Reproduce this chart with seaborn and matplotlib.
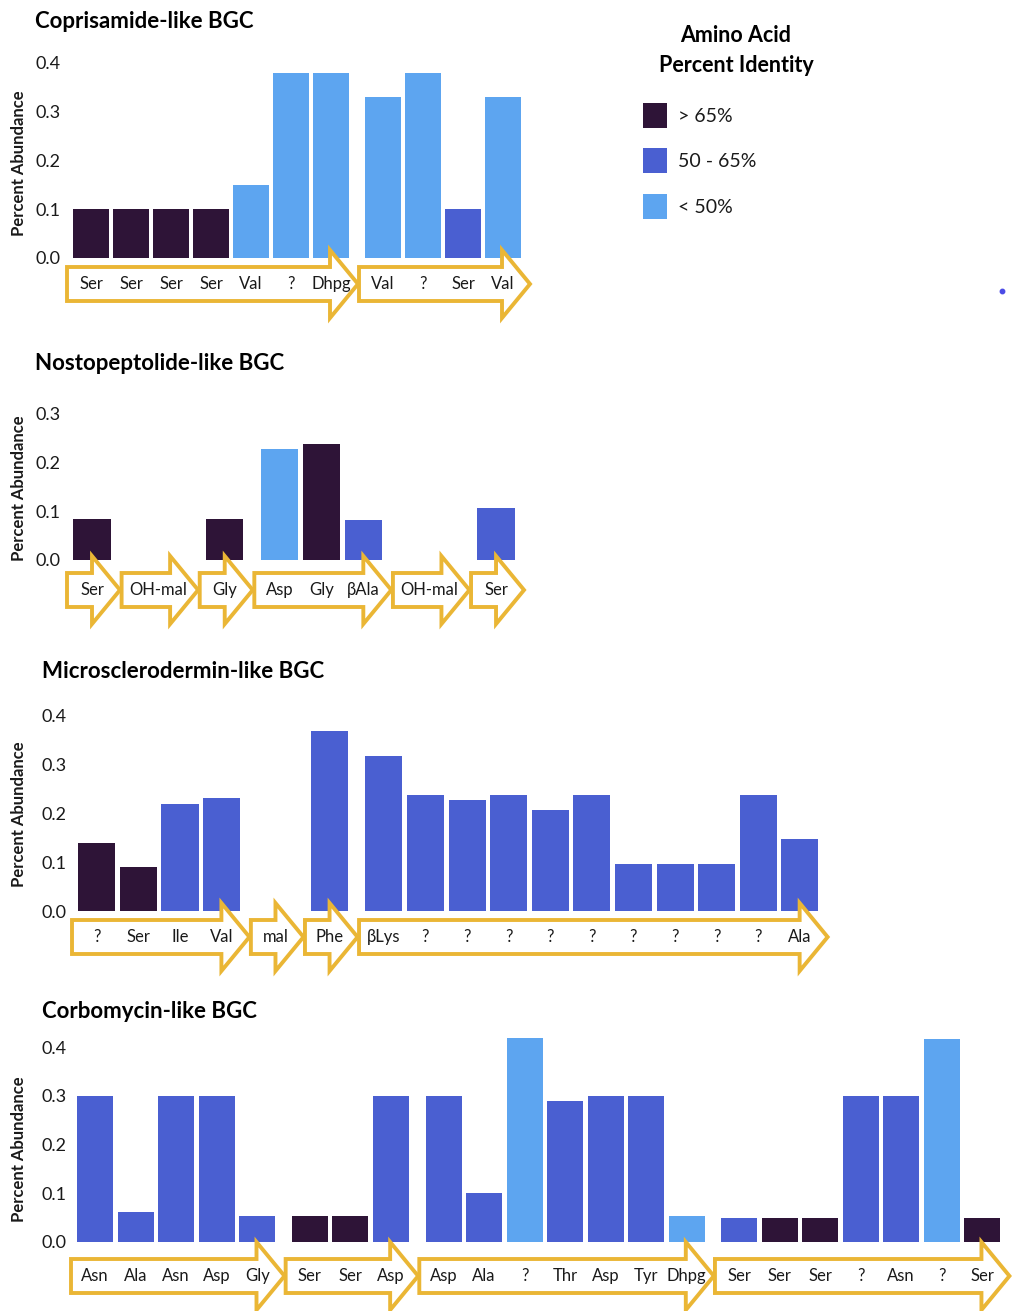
import matplotlib
matplotlib.use("Agg")
import matplotlib.pyplot as plt
from matplotlib.patches import Polygon, Patch
from matplotlib.lines import Line2D
import numpy as np
import pandas as pd
import seaborn as sns

# ---------------------------------------------------------------- data
ID_CLASSES = ["> 65%", "50 - 65%", "< 50%"]
ID_COLORS = ["#2E1437", "#4A5FD1", "#5DA5F0"]

# Coprisamide-like BGC
copri_title = "Coprisamide-like BGC"
copri_modules = [["Ser", "Ser", "Ser", "Ser", "Val", "?", "Dhpg"],
                 ["Val", "?", "Ser", "Val"]]
copri_values = [0.10, 0.10, 0.10, 0.10, 0.15, 0.38, 0.38,
                0.33, 0.38, 0.10, 0.33]
copri_identity = ["> 65%", "> 65%", "> 65%", "> 65%", "< 50%", "< 50%", "< 50%",
                  "< 50%", "< 50%", "50 - 65%", "< 50%"]

# Nostopeptolide-like BGC (None = domain without an amino acid)
nosto_title = "Nostopeptolide-like BGC"
nosto_modules = [["Ser"], ["OH-mal"], ["Gly"], ["Asp", "Gly", "βAla"],
                 ["OH-mal"], ["Ser"]]
nosto_values = [0.085, None, 0.085, 0.227, 0.237, 0.083, None, 0.107]
nosto_identity = ["> 65%", None, "> 65%", "< 50%", "> 65%", "50 - 65%",
                  None, "50 - 65%"]

# Microsclerodermin-like BGC
micro_title = "Microsclerodermin-like BGC"
micro_modules = [["?", "Ser", "Ile", "Val"], ["mal"], ["Phe"],
                 ["βLys", "?", "?", "?", "?", "?", "?", "?", "?", "?", "Ala"]]
micro_values = [0.14, 0.09, 0.22, 0.232, None, 0.369,
                0.318, 0.238, 0.228, 0.238, 0.207, 0.238, 0.097, 0.097,
                0.097, 0.238, 0.147]
micro_identity = ["> 65%", "> 65%", "50 - 65%", "50 - 65%", None, "50 - 65%",
                  "50 - 65%", "50 - 65%", "50 - 65%", "50 - 65%", "50 - 65%",
                  "50 - 65%", "50 - 65%", "50 - 65%", "50 - 65%", "50 - 65%",
                  "50 - 65%"]

# Corbomycin-like BGC
corbo_title = "Corbomycin-like BGC"
corbo_modules = [["Asn", "Ala", "Asn", "Asp", "Gly"],
                 ["Ser", "Ser", "Asp"],
                 ["Asp", "Ala", "?", "Thr", "Asp", "Tyr", "Dhpg"],
                 ["Ser", "Ser", "Ser", "?", "Asn", "?", "Ser"]]
corbo_values = [0.30, 0.062, 0.30, 0.30, 0.053,
                0.053, 0.053, 0.30,
                0.30, 0.10, 0.418, 0.29, 0.30, 0.30, 0.053,
                0.05, 0.05, 0.05, 0.30, 0.30, 0.417, 0.05]
corbo_identity = ["50 - 65%", "50 - 65%", "50 - 65%", "50 - 65%", "50 - 65%",
                  "> 65%", "> 65%", "50 - 65%",
                  "50 - 65%", "50 - 65%", "< 50%", "50 - 65%", "50 - 65%",
                  "50 - 65%", "< 50%",
                  "50 - 65%", "> 65%", "> 65%", "50 - 65%", "50 - 65%",
                  "< 50%", "> 65%"]

# ---------------------------------------------------------------- style
sns.set_style("white")
plt.rcParams["font.family"] = ["Lato", "DejaVu Sans"]
TEXT = "#1A1A1A"
ARROW = "#EAB635"

W, H, DPI = 1015, 1311, 100
PX_PER_UNIT = 487.5          # vertical pixels per 1.0 of abundance
fig = plt.figure(figsize=(W / DPI, H / DPI), dpi=DPI)
fig.patch.set_facecolor("white")


def module_layout(modules, values, gap=0.3):
    """Slot spans of each module and the x centre of every label."""
    spans, centers = [], []
    pos, k = 0.0, 0
    for mod in modules:
        if len(mod) == 1 and values[k] is None:
            w = max(1.0, 0.26 * len(mod[0]))
            centers.append(pos + w / 2)
        else:
            w = float(len(mod))
            centers.extend(pos + 0.5 + i for i in range(len(mod)))
        spans.append((pos, pos + w))
        k += len(mod)
        pos += w + gap
    return spans, centers


def draw_panel(title, modules, values, identity, origin, slot, zero,
               axis_px, ytop, title_xy, ylabel_y, arrow_dy):
    spans, centers = module_layout(modules, values)
    labels = [lab for mod in modules for lab in mod]

    ymin, ymax = -0.14, 0.45
    xmin = (axis_px - origin) / slot
    xmax = spans[-1][1] + 0.8
    top_px = zero - ymax * PX_PER_UNIT
    bot_px = zero - ymin * PX_PER_UNIT
    ax = fig.add_axes([axis_px / W, 1 - bot_px / H,
                       (xmax - xmin) * slot / W, (bot_px - top_px) / H])
    ax.set_facecolor("none")

    df = pd.DataFrame({"pos": centers, "value": values,
                       "identity": identity, "label": labels})
    df = df.dropna(subset=["value"])
    sns.barplot(data=df, x="pos", y="value", hue="identity",
                hue_order=ID_CLASSES,
                palette=dict(zip(ID_CLASSES, ID_COLORS)),
                native_scale=True, dodge=False, width=0.89,
                errorbar=None, saturation=1, linewidth=0,
                legend=False, ax=ax, zorder=2)

    ax.set_xlim(xmin, xmax)
    ax.set_ylim(ymin, ymax)
    ticks = [t / 10 for t in range(0, int(round(ytop * 10)) + 1)]
    ax.set_yticks(ticks)
    ax.set_yticklabels([f"{t:.1f}" for t in ticks])
    ax.tick_params(axis="y", length=0, pad=3, labelsize=13,
                   labelcolor=TEXT)
    ax.set_xticks([])
    ax.set_xlabel("")
    sns.despine(ax=ax, left=True, bottom=True)

    ax.set_ylabel("Percent Abundance", fontsize=12, fontweight="bold",
                  color=TEXT, ha="center", va="center")
    ax.yaxis.set_label_coords(19 / W, 1 - ylabel_y / H,
                              transform=fig.transFigure)

    fig.text(title_xy[0] / W, 1 - title_xy[1] / H, title, ha="left",
             va="center", fontsize=16, fontweight="bold", color="black")

    # module arrows with their residue labels
    yc = -arrow_dy / PX_PER_UNIT
    bh, hh = 17 / PX_PER_UNIT, 34 / PX_PER_UNIT
    hl = 28 / slot
    for s, e in spans:
        xt, xp = s - 4 / slot, e + 7 / slot
        pts = [(xt, yc + bh), (xp - hl, yc + bh), (xp - hl, yc + hh),
               (xp, yc), (xp - hl, yc - hh), (xp - hl, yc - bh),
               (xt, yc - bh)]
        ax.add_patch(Polygon(pts, closed=True, facecolor="white",
                             edgecolor=ARROW, linewidth=2.8,
                             joinstyle="miter", zorder=3, clip_on=False))
    for x, lab in zip(centers, labels):
        ax.text(x, yc, lab, ha="center", va="center", fontsize=12,
                color=TEXT, zorder=4, clip_on=False)
    return ax


draw_panel(copri_title, copri_modules, copri_values, copri_identity,
           origin=71, slot=40, zero=258, axis_px=65, ytop=0.4,
           title_xy=(35, 22), ylabel_y=163, arrow_dy=26)
draw_panel(nosto_title, nosto_modules, nosto_values, nosto_identity,
           origin=71, slot=42, zero=560, axis_px=65, ytop=0.3,
           title_xy=(35, 363), ylabel_y=488, arrow_dy=30)
draw_panel(micro_title, micro_modules, micro_values, micro_identity,
           origin=76, slot=41.6, zero=911, axis_px=71, ytop=0.4,
           title_xy=(42, 672), ylabel_y=814, arrow_dy=26)
draw_panel(corbo_title, corbo_modules, corbo_values, corbo_identity,
           origin=75, slot=40.5, zero=1242, axis_px=71, ytop=0.4,
           title_xy=(42, 1012), ylabel_y=1149, arrow_dy=34)

# ---------------------------------------------------------------- legend
fig.text(736 / W, 1 - 36 / H, "Amino Acid", ha="center", va="center",
         fontsize=15.5, fontweight="bold", color="black")
fig.text(736 / W, 1 - 66 / H, "Percent Identity", ha="center", va="center",
         fontsize=15.5, fontweight="bold", color="black")
handles = [Patch(facecolor=c, edgecolor="none", label=l)
           for l, c in zip(ID_CLASSES, ID_COLORS)]
leg = fig.legend(handles=handles, loc="upper left",
                 bbox_to_anchor=(643 / W, 1 - 103 / H),
                 bbox_transform=fig.transFigure, frameon=False,
                 fontsize=14, handlelength=1.25, handleheight=1.6,
                 handletextpad=0.55, labelspacing=1.05, borderpad=0,
                 borderaxespad=0)
for t in leg.get_texts():
    t.set_color(TEXT)

fig.add_artist(Line2D([1002 / W], [1 - 291 / H], marker="o", markersize=3.2,
                      color="#4B4BE6", linestyle="none",
                      transform=fig.transFigure))

fig.savefig("out.png", dpi=DPI)
